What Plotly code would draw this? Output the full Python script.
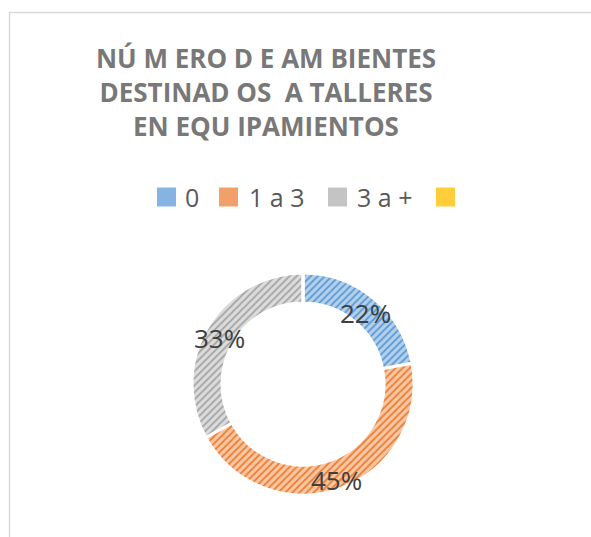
import math
import plotly.graph_objects as go

labels = ["0", "1 a 3", "3 a +", " "]
values = [22, 45, 33, 0]
main_colors = ["#5B9BD5", "#ED7D31", "#A5A5A5", "#FFC000"]
light_colors = ["#B4D0EC", "#F8C8A6", "#DCDCDC", "#FFE08A"]
swatch_colors = ["#86B4E2", "#F2A06A", "#C4C4C4", "#FFCE3A"]
title_lines = ["NÚ M ERO D E AM BIENTES", "DESTINAD OS  A TALLERES", "EN EQU IPAMIENTOS"]

W, H = 591, 537
# pie placement (pixels; x from left, y from bottom)
PX0, PX1, PY0, PY1 = 192, 414, 42, 264
HOLE = 0.73

fig = go.Figure()
fig.add_trace(go.Pie(
    labels=labels,
    values=values,
    hole=HOLE,
    sort=False,
    direction="clockwise",
    rotation=0,
    textinfo="none",
    marker=dict(
        colors=light_colors,
        line=dict(color="white", width=3),
        pattern=dict(shape="/", fgcolor=main_colors, bgcolor=light_colors,
                     size=5, solidity=0.35, fillmode="replace"),
    ),
    domain=dict(x=[PX0 / W, PX1 / W], y=[PY0 / H, PY1 / H]),
    hoverinfo="label+percent",
    showlegend=False,
))

# percentage labels, placed at the middle of the ring at each slice's mid-angle
annotations = []
total = sum(values)
cx, cy = (PX0 + PX1) / 2, (PY0 + PY1) / 2
r_out = (PX1 - PX0) / 2
r_mid = r_out * (1 + HOLE) / 2 + 1.5
cum = 0
for v in values:
    if v > 0:
        mid = (cum + v / 2) / total * 2 * math.pi
        x = cx + r_mid * math.sin(mid)
        y = cy + r_mid * math.cos(mid)
        annotations.append(dict(text=f"{round(100 * v / total)}%", xref="paper", yref="paper",
                                x=x / W, y=y / H, xanchor="center", yanchor="middle",
                                yshift=-4, showarrow=False,
                                font=dict(family="Open Sans", size=26, color="#404040")))
    cum += v

# custom legend (larger swatches than plotly's built-in pie legend)
swatch_x = [157, 219, 328, 436]
text_x = [183, 247, 355, 462]
leg_y = 197
shapes = [dict(type="rect", xref="paper", yref="paper",
               x0=9.5 / W, x1=1.05, y0=-0.05, y1=1 - 12.5 / H,
               line=dict(color="#D9D9D9", width=1.5), fillcolor="rgba(0,0,0,0)",
               layer="below")]
for lab, col, sx, tx in zip(labels, swatch_colors, swatch_x, text_x):
    shapes.append(dict(type="rect", xref="paper", yref="paper",
                       x0=sx / W, x1=(sx + 19) / W,
                       y0=1 - (leg_y + 9.5) / H, y1=1 - (leg_y - 9.5) / H,
                       line=dict(width=0), fillcolor=col))
    if lab.strip():
        annotations.append(dict(text=lab, xref="paper", yref="paper",
                                x=tx / W, y=1 - leg_y / H, xanchor="left", yanchor="middle",
                                showarrow=False,
                                font=dict(family="Open Sans", size=25, color="#595959")))

fig.update_layout(
    width=W, height=H,
    margin=dict(l=0, r=0, t=0, b=0),
    paper_bgcolor="white",
    plot_bgcolor="white",
    title=dict(
        text="<b>" + "<br>".join(title_lines) + "</b>",
        x=266 / W, xanchor="center", xref="container",
        y=1 - 68 / H, yanchor="middle", yref="container",
        font=dict(family="Open Sans", size=26, color="#787878"),
    ),
    shapes=shapes,
    annotations=annotations,
)

fig.write_html("out.html", config={"displayModeBar": False},
               post_script="document.body.style.margin='0';")
